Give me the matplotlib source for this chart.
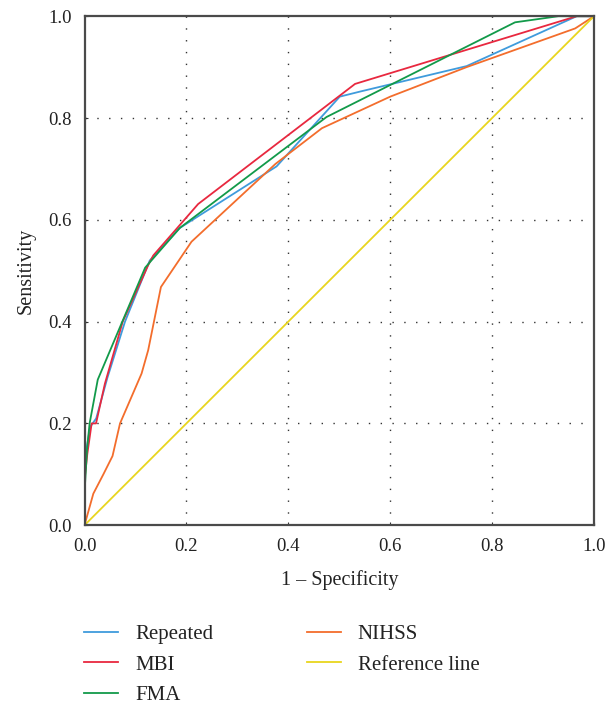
import matplotlib.pyplot as plt

# ROC curves (1 - specificity, sensitivity)
repeated_fpr = [0.0, 0.0, 0.004, 0.011, 0.023, 0.045, 0.0795, 0.128, 0.187, 0.377, 0.501, 0.541, 0.75, 0.966, 1.0]
repeated_tpr = [0.0, 0.09, 0.15, 0.193, 0.21, 0.29, 0.40, 0.52, 0.584, 0.705, 0.842, 0.852, 0.902, 1.0, 1.0]

mbi_fpr = [0.0, 0.0, 0.0055, 0.014, 0.0226, 0.040, 0.075, 0.125, 0.135, 0.223, 0.531, 0.966, 1.0]
mbi_tpr = [0.0, 0.088, 0.14, 0.20, 0.20, 0.278, 0.40, 0.511, 0.53, 0.631, 0.867, 1.0, 1.0]

fma_fpr = [0.0, 0.0, 0.005, 0.01, 0.026, 0.119, 0.187, 0.475, 0.845, 0.93, 1.0]
fma_tpr = [0.0, 0.063, 0.15, 0.20, 0.286, 0.506, 0.584, 0.802, 0.988, 1.0, 1.0]

nihss_fpr = [0.0, 0.0173, 0.037, 0.055, 0.0697, 0.112, 0.125, 0.15, 0.21, 0.375, 0.466, 0.6, 0.75, 0.963, 1.0]
nihss_tpr = [0.0, 0.062, 0.10, 0.136, 0.20, 0.298, 0.344, 0.468, 0.557, 0.71, 0.78, 0.842, 0.90, 0.976, 1.0]

ref_fpr = [0.0, 1.0]
ref_tpr = [0.0, 1.0]

plt.rcParams["font.family"] = ["Liberation Serif", "DejaVu Serif"]

fig = plt.figure(figsize=(6.08, 7.05), dpi=100)
ax = fig.add_axes([0.139, 0.255, 0.838, 0.722])

ax.plot(repeated_fpr, repeated_tpr, color="#3f9bdc", lw=1.3, label="Repeated")
ax.plot(mbi_fpr, mbi_tpr, color="#e8283f", lw=1.3, label="MBI")
ax.plot(fma_fpr, fma_tpr, color="#129a4a", lw=1.3, label="FMA")
ax.plot(nihss_fpr, nihss_tpr, color="#f36d2c", lw=1.3, label="NIHSS")
ax.plot(ref_fpr, ref_tpr, color="#e8d51e", lw=1.3, label="Reference line")

ax.set_xlim(0, 1)
ax.set_ylim(0, 1)
ticks = [0.0, 0.2, 0.4, 0.6, 0.8, 1.0]
ax.set_xticks(ticks)
ax.set_yticks(ticks)
ax.set_xticklabels([f"{t:.1f}" for t in ticks])
ax.set_yticklabels([f"{t:.1f}" for t in ticks])
ax.tick_params(direction="in", length=2.5, width=0.8, labelsize=13.5, pad=9,
               colors="#333333", labelcolor="#222222")

for t in ticks[1:-1]:
    ax.axvline(t, color="#333333", lw=1.0, ls=(0, (1, 7.5)), zorder=0)
    ax.axhline(t, color="#333333", lw=1.0, ls=(0, (1, 7.5)), zorder=0)

for side in ["left", "right", "top", "bottom"]:
    ax.spines[side].set_color("#4a4a4a")
    ax.spines[side].set_linewidth(1.6)

ax.set_xlabel("1 – Specificity", fontsize=14.5, labelpad=11, color="#222222")
ax.set_ylabel("Sensitivity", fontsize=14.5, labelpad=9, color="#222222")

fig.legend(loc="upper left", bbox_to_anchor=(0.138, 0.114), ncol=2, frameon=False,
           fontsize=15, borderpad=0, borderaxespad=0, handlelength=1.65,
           handletextpad=0.8, columnspacing=4.5, labelspacing=0.52,
           labelcolor="#222222")

fig.savefig("out.png", dpi=100)
